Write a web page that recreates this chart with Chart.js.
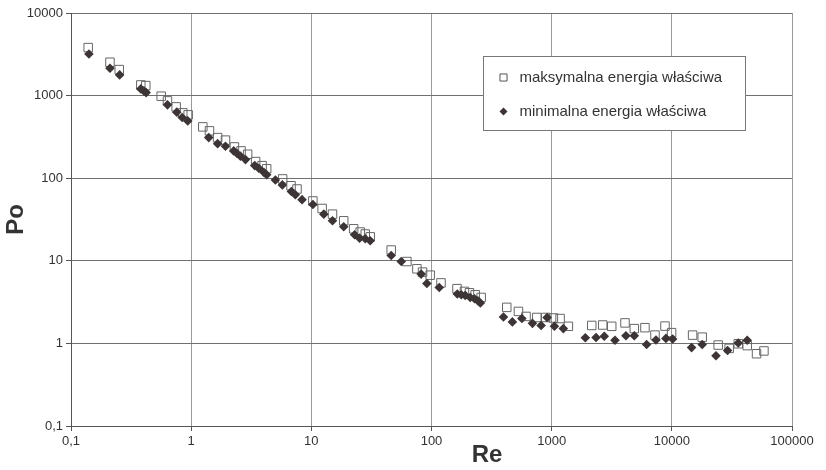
<!DOCTYPE html>
<html>
<head>
<meta charset="utf-8">
<script src="https://cdn.jsdelivr.net/npm/chart.js@4.4.0/dist/chart.umd.min.js"></script>
<style>
  html, body { margin: 0; padding: 0; background: #fff; }
  #wrap { width: 826px; height: 470px; position: relative; }
</style>
</head>
<body>
<div id="wrap"><canvas id="myChart" width="826" height="470"></canvas></div>
<script>
// maksymalna energia (hollow squares)
const reMax = [0.139, 0.211, 0.252, 0.381, 0.419, 0.563, 0.635, 0.75, 0.851, 0.944,
  1.25, 1.42, 1.66, 1.93, 2.29, 2.6, 2.95, 3.44, 3.89, 4.25, 5.77, 6.78, 7.6, 10.3, 12.3,
  15.0, 18.6, 22.5, 25.5, 28.1, 30.9, 46.2, 62.4, 75.6, 84.2, 97.5,
  120, 163, 188, 207, 231, 259, 423, 529, 612, 752, 893, 1033,
  1175, 1377, 2154, 2659, 3160, 4077, 4873, 5974, 7240, 8770, 9955,
  14890, 17900, 24300, 30000, 35700, 42400, 50700, 58400];
const poMax = [3812, 2535, 2065, 1346, 1322, 984, 863, 730, 618, 585,
  418, 374, 310, 289, 239, 214, 195, 159, 142, 130, 98, 81, 74, 53, 43,
  36.7, 30.5, 24.4, 22.3, 21.1, 19.5, 13.5, 9.8, 8.0, 7.3, 6.7,
  5.4, 4.6, 4.26, 4.1, 3.88, 3.6, 2.73, 2.44, 2.12, 2.06, 2.06, 2.03,
  2.0, 1.61, 1.65, 1.67, 1.61, 1.77, 1.51, 1.55, 1.26, 1.62, 1.35,
  1.26, 1.19, 0.955, 0.87, 0.99, 0.94, 0.75, 0.81];

// minimalna energia (filled diamonds)
const reMin = [0.141, 0.211, 0.254, 0.381, 0.404, 0.422, 0.635, 0.759, 0.842, 0.937,
  1.4, 1.66, 1.93, 2.26, 2.41, 2.57, 2.83, 3.38, 3.65, 4.02, 4.25, 5.02, 5.74, 6.82, 7.36, 8.37, 10.3,
  12.7, 15.0, 18.6, 22.9, 25.2, 28.1, 30.9, 46.2, 56, 82, 91.5,
  116, 164, 177, 191, 210, 228, 243, 255, 397, 471, 565, 692, 817, 916, 1054,
  1250, 1906, 2340, 2740, 3365, 4150, 4870, 6170, 7380, 8930, 10160,
  14600, 17900, 23300, 29100, 35700, 42400];
const poMin = [3192, 2143, 1780, 1205, 1140, 1087, 773, 630, 542, 494,
  310, 262, 244, 214, 199, 185, 168, 142, 132, 118, 110, 95, 83, 69, 63, 55, 48,
  36.7, 30.5, 25.8, 20.7, 18.8, 18.5, 17.5, 11.6, 9.8, 6.9, 5.3,
  4.75, 3.96, 3.88, 3.81, 3.6, 3.47, 3.29, 3.08, 2.09, 1.82, 2.0, 1.75, 1.65, 2.06, 1.61,
  1.51, 1.17, 1.18, 1.22, 1.09, 1.24, 1.24, 0.97, 1.1, 1.15, 1.13,
  0.89, 0.97, 0.71, 0.82, 1.01, 1.09];

const xTicks = [0.1, 1, 10, 100, 1000, 10000, 100000];
const yTicks = [0.1, 1, 10, 100, 1000, 10000];
const seriesLabels = ['maksymalna energia właściwa', 'minimalna energia właściwa'];
const xTitle = 'Re';
const yTitle = 'Po';

const FONT = "'Liberation Sans', Arial, sans-serif";
const toPoints = (xs, ys) => xs.map((x, i) => ({ x: x, y: ys[i] }));
const fmt = v => String(v).replace('.', ',');

// legend box inside plot + axis titles
const extras = {
  id: 'extras',
  afterDraw(chart) {
    const ctx = chart.ctx;
    const ca = chart.chartArea;
    ctx.save();
    // legend
    const bx = ca.left + 412.5, by = ca.top + 43.5, bw = 262, bh = 74;
    ctx.fillStyle = '#fff';
    ctx.fillRect(bx, by, bw, bh);
    ctx.strokeStyle = '#777';
    ctx.lineWidth = 1;
    ctx.strokeRect(bx, by, bw, bh);
    ctx.font = '15px ' + FONT;
    ctx.textBaseline = 'middle';
    ctx.fillStyle = '#333';
    ctx.fillText(seriesLabels[0], bx + 36, by + 21);
    ctx.fillText(seriesLabels[1], bx + 36, by + 55);
    ctx.strokeStyle = '#555';
    ctx.fillStyle = 'rgba(0,0,0,0)';
    Chart.helpers.drawPoint(ctx, { pointStyle: 'rect', radius: 5, borderWidth: 1 }, bx + 20, by + 21);
    ctx.fillStyle = '#3d3535';
    ctx.strokeStyle = '#3d3535';
    Chart.helpers.drawPoint(ctx, { pointStyle: 'rectRot', radius: 4, borderWidth: 0 }, bx + 20, by + 55);
    // axis titles
    ctx.fillStyle = '#333';
    ctx.font = 'bold 24px ' + FONT;
    ctx.textAlign = 'center';
    ctx.textBaseline = 'middle';
    ctx.fillText(xTitle, 487, 455);
    ctx.translate(16, (ca.top + ca.bottom) / 2);
    ctx.rotate(-Math.PI / 2);
    ctx.fillText(yTitle, 0, 0);
    ctx.restore();
  }
};

const ctx = document.getElementById('myChart').getContext('2d');
new Chart(ctx, {
  type: 'scatter',
  data: {
    datasets: [
      {
        label: seriesLabels[1],
        data: toPoints(reMin, poMin),
        pointStyle: 'rectRot',
        pointRadius: 4.8,
        pointBorderWidth: 0,
        backgroundColor: '#3d3535',
        borderColor: '#3d3535'
      },
      {
        label: seriesLabels[0],
        data: toPoints(reMax, poMax),
        pointStyle: 'rect',
        pointRadius: 6,
        pointBorderWidth: 1,
        backgroundColor: 'rgba(0,0,0,0)',
        borderColor: '#666'
      }
    ]
  },
  options: {
    responsive: false,
    animation: false,
    devicePixelRatio: 1,
    layout: { padding: { left: 0, top: 13, right: 34, bottom: 0 } },
    plugins: { legend: { display: false }, tooltip: { enabled: false } },
    scales: {
      x: {
        type: 'logarithmic',
        min: 0.1,
        max: 100000,
        afterBuildTicks: s => { s.ticks = xTicks.map(v => ({ value: v })); },
        afterFit: s => { s.height = 44; },
        ticks: {
          callback: v => fmt(v),
          color: '#333',
          font: { family: FONT, size: 13 },
          padding: 3,
          maxRotation: 0,
          autoSkip: false
        },
        grid: { color: '#9a9a9a', tickColor: '#555', tickLength: 5 },
        border: { color: '#555' }
      },
      y: {
        type: 'logarithmic',
        min: 0.1,
        max: 10000,
        afterBuildTicks: s => { s.ticks = yTicks.map(v => ({ value: v })); },
        afterFit: s => { s.width = 71; },
        ticks: {
          callback: v => fmt(v),
          color: '#333',
          font: { family: FONT, size: 13 },
          padding: 3,
          autoSkip: false
        },
        grid: { color: '#707070', tickColor: '#555', tickLength: 5 },
        border: { color: '#555' }
      }
    }
  },
  plugins: [extras]
});
</script>
</body>
</html>
